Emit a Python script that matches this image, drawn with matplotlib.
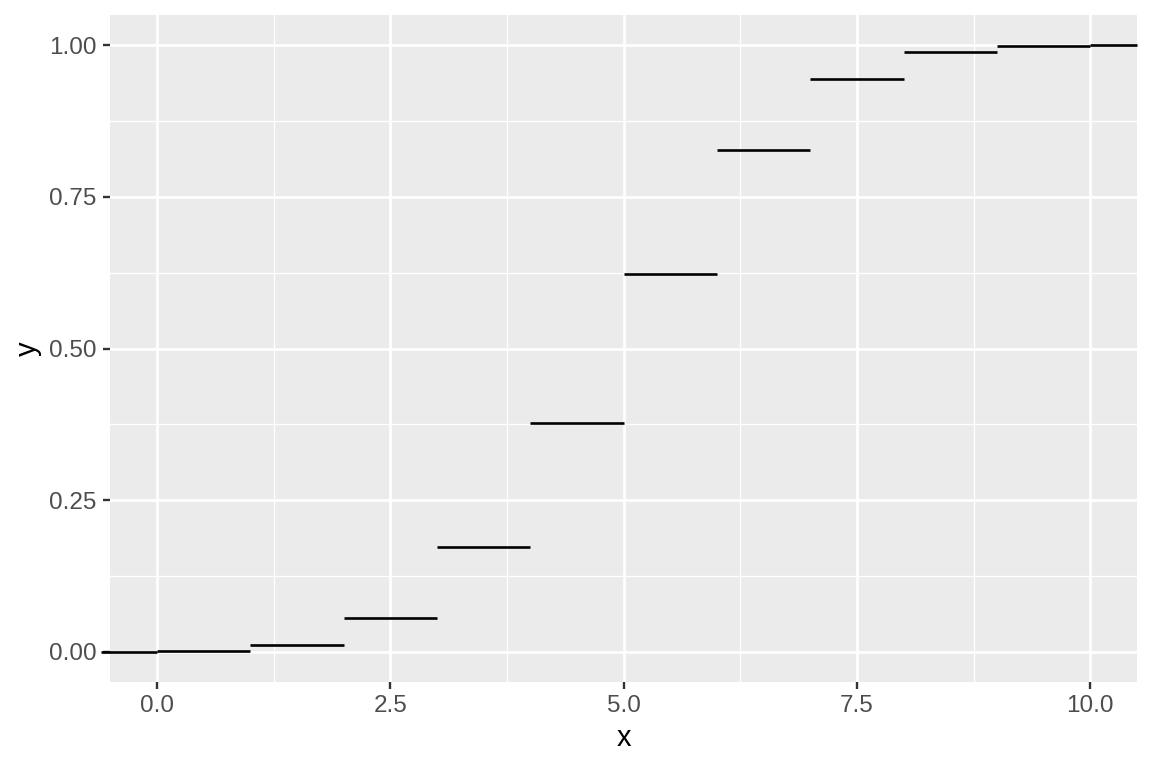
import matplotlib
matplotlib.use("Agg")
import matplotlib.pyplot as plt

# step data (CDF values)
x_start = [-0.6, 0, 1, 2, 3, 4, 5, 6, 7, 8, 9, 10]
x_end = [0, 1, 2, 3, 4, 5, 6, 7, 8, 9, 10, 10.5]
y_vals = [0.0, 0.001, 0.011, 0.055, 0.172, 0.377, 0.623, 0.828, 0.945, 0.989, 0.999, 1.0]

x_ticks = [0.0, 2.5, 5.0, 7.5, 10.0]
x_ticklabels = ["0.0", "2.5", "5.0", "7.5", "10.0"]
y_ticks = [0.00, 0.25, 0.50, 0.75, 1.00]
y_ticklabels = ["0.00", "0.25", "0.50", "0.75", "1.00"]

plt.rcParams['font.family'] = ['Liberation Sans', 'DejaVu Sans']

fig = plt.figure(figsize=(11.52, 7.68), dpi=100)
ax = fig.add_axes([110/1152, 1 - 682/768, (1137 - 110)/1152, (682 - 15)/768])
ax.set_facecolor('#EBEBEB')
for s in ax.spines.values():
    s.set_visible(False)

ax.set_xlim(-0.505, 10.5)
ax.set_ylim(-0.05, 1.05)

ax.set_xticks(x_ticks)
ax.set_xticklabels(x_ticklabels)
ax.set_yticks(y_ticks)
ax.set_yticklabels(y_ticklabels)
ax.set_xticks([1.25, 3.75, 6.25, 8.75], minor=True)
ax.set_yticks([0.125, 0.375, 0.625, 0.875], minor=True)

ax.grid(which='major', color='white', linewidth=1.9)
ax.grid(which='minor', color='white', linewidth=0.95)
ax.set_axisbelow(True)
ax.tick_params(which='major', length=5.0, width=1.7, color='#333333',
               labelsize=17.5, labelcolor='#4D4D4D', pad=4.5)
ax.tick_params(which='minor', length=0)

for xs, xe, yv in zip(x_start, x_end, y_vals):
    ax.plot([xs, xe], [yv, yv], color='black', linewidth=1.9,
            solid_capstyle='butt', clip_on=False)

ax.set_xlabel('x', fontsize=21, color='black', labelpad=5)
ax.set_ylabel('y', fontsize=21, color='black', labelpad=5)

fig.savefig('out.png', dpi=100, facecolor='white')
